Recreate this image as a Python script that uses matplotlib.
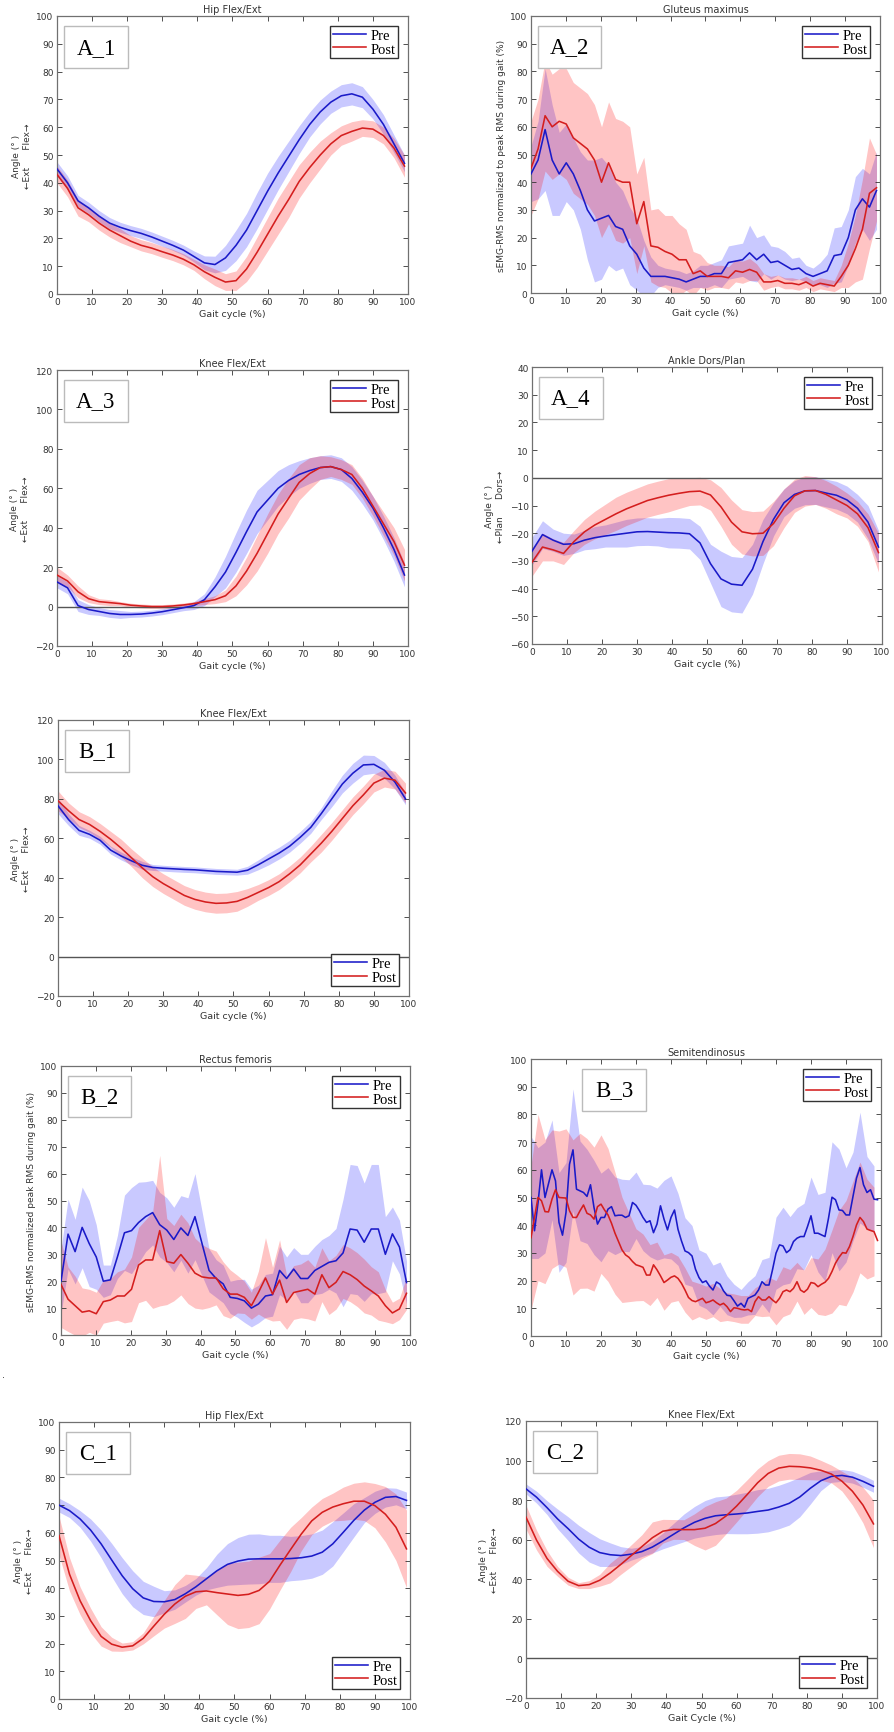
import numpy as np
import matplotlib
matplotlib.use('Agg')
import matplotlib.pyplot as plt
from matplotlib.patches import Rectangle

# ---------------- data ----------------
# kinematic curves sampled every 3 % of gait cycle (0..99)
gait_kin = np.arange(0, 100, 3)

a1_pre = [45, 40, 33.5, 31, 28, 25.5, 24, 22.8, 21.8, 20.5, 19, 17.5, 15.8, 13.5, 11.2, 10.6, 13, 17.5,
          23, 30, 37, 43.5, 49.5, 55.5, 61, 65.5, 69, 71.3, 72, 70.8, 66.5, 61, 54, 47]
a1_pre_sd = [2.5, 2.5, 2, 2, 2, 2, 1.8, 1.8, 1.8, 1.8, 1.8, 1.8, 1.8, 2, 2.5, 3, 4.5, 5.5, 6, 6.5, 6.5, 6,
             5.5, 5, 4.5, 4.3, 4, 4, 4, 3.8, 3.5, 3.5, 3.2, 3]
a1_post = [43, 38, 31, 28.5, 25.5, 23, 21, 19, 17.5, 16.5, 15.2, 14, 12.5, 10.5, 8, 6, 4.3, 4.8, 9, 15,
           21.5, 28, 34, 40.5, 45.5, 50, 54, 57, 58.5, 59.7, 59.3, 57, 52.5, 46]
a1_post_sd = [3, 3, 3, 2.5, 2.5, 2.5, 2.5, 2, 2, 2, 2, 2, 2, 2, 2.5, 3, 3, 3.5, 4.5, 5.5, 6, 6.5, 6.5, 6,
              5.5, 5, 4, 3.5, 3.5, 3, 3, 3, 3.5, 4]

a3_pre = [12.5, 9.5, 0.5, -1.5, -2.5, -3.5, -4, -4, -3.8, -3.3, -2.6, -1.6, -0.6, 0.5, 3.5, 10, 17.5, 27.5,
          38, 48, 54, 60, 64, 67, 69, 70.5, 71, 69.5, 65, 58, 50, 40, 29, 16]
a3_pre_sd = [3, 3, 3, 2.5, 2, 2, 2, 1.5, 1.5, 1.5, 1.5, 1.5, 1.5, 2, 3, 5, 8, 10, 11, 11, 10, 9, 8, 7, 6.5,
             6, 6, 6, 6, 6, 6, 6, 6, 6]
a3_post = [16, 13, 7.5, 4, 2.5, 2, 1.5, 0.7, 0.3, 0, 0, 0.3, 0.8, 1.5, 2.5, 3.5, 5.5, 10.5, 18, 27, 37, 47,
           55, 63, 67.5, 70.5, 71, 69.5, 67, 60, 51, 42, 33, 21]
a3_post_sd = [4, 3, 3, 2, 1.5, 1.5, 1, 1, 1, 1, 1, 1, 1, 1, 1.5, 2, 3, 5, 7, 9, 10, 10, 10, 9, 8, 6, 5, 5,
              5, 5, 5, 6, 7, 8]

a4_pre = [-26.5, -20.5, -22.5, -24, -23.8, -22.5, -21.6, -21, -20.5, -20, -19.5, -19.4, -19.6, -19.8,
          -19.9, -20.2, -23.5, -31, -36.5, -38.4, -38.8, -33, -23, -15, -9, -6, -4.7, -4.6, -5.5, -6.3,
          -8, -11, -16, -25]
a4_pre_sd = [5, 5, 4, 4, 3.5, 3.5, 4, 4, 4.5, 5, 5, 5, 5, 5.5, 5.5, 5.5, 6, 7, 10, 10, 10, 9, 8, 6, 5, 5,
             5, 5, 5, 5, 5, 5, 6, 6]
a4_post = [-30.5, -25, -26, -27.3, -23, -19.5, -17, -15, -13, -11.2, -9.7, -8.2, -7.2, -6.3, -5.6, -5,
           -4.8, -6.2, -10.5, -16, -19.5, -20.2, -20, -16.5, -11, -6.5, -4.7, -4.6, -6, -8, -10, -13,
           -18, -27]
a4_post_sd = [5, 5, 4, 4, 4, 4.5, 5, 5.5, 6, 6, 6, 6, 6, 6, 5.5, 5, 5, 5.5, 7, 8, 8, 8, 8, 8, 7, 6, 5.5,
              5, 5, 5, 4.5, 4.5, 5, 7]

b1_pre = [76.5, 69.5, 64, 62, 59, 54, 51, 48.5, 46.3, 45.2, 44.8, 44.5, 44.2, 44, 43.6, 43.2, 43, 42.8,
          43.8, 46.5, 49.5, 52.5, 56, 60.5, 65.5, 72.5, 80, 87.5, 93, 97.2, 97.5, 94.5, 88.5, 80]
b1_pre_sd = [4, 3, 2.5, 2, 2, 2, 2, 2, 2, 1.5, 1.5, 1.5, 1.5, 1.5, 1.5, 1.5, 1.5, 1.5, 2, 2.5, 3, 3, 3,
             3, 3, 3, 4, 4.5, 5, 5, 4.5, 4, 3.5, 3]
b1_post = [79, 74, 69.5, 67, 63.5, 59.5, 55, 50, 45, 40.5, 37, 34, 31, 29, 27.7, 27, 27.2, 28, 30, 32.5,
           35, 38, 42, 46.5, 52, 57.5, 63.5, 70, 76.5, 82, 88, 90.5, 89.5, 83]
b1_post_sd = [5, 4, 4, 4, 4, 4, 4.5, 4.5, 5, 5, 5, 5, 5, 5, 5, 5, 5, 5, 4.5, 4, 4, 4, 4, 4, 4, 4.5, 4.5,
              4.5, 4.5, 4.5, 4.5, 4.5, 4.5, 5]

c1_pre = [70, 68, 65, 61, 56, 50.2, 44.5, 39.8, 36.5, 35.2, 35.1, 35.9, 38, 40.5, 43.4, 46.3, 48.6, 49.8,
          50.5, 50.6, 50.6, 50.6, 50.7, 51, 51.6, 53, 56, 60.2, 64.5, 68.2, 71, 72.8, 73.1, 71.7]
c1_pre_sd = [2.5, 2.5, 3, 4, 5, 6, 6.5, 6.5, 6, 5.5, 4, 3.5, 3, 3, 4, 6, 7.5, 8.5, 9, 9, 8.5, 8.5, 8, 8,
             8, 8, 8, 7, 6, 4.5, 4, 3.5, 3, 3]
c1_post = [59, 45, 35.5, 28.3, 22.6, 19.8, 18.7, 19.2, 21.9, 26.3, 30.6, 34.3, 37.1, 38.7, 39, 38.4,
           37.9, 37.4, 37.8, 39.2, 42.5, 48.4, 54, 59.5, 64.3, 67.4, 69.3, 70.5, 71.4, 71.4, 69.8, 66.7,
           62, 54.2]
c1_post_sd = [7, 6, 5, 4.5, 3.5, 2.5, 1.5, 1.5, 2, 3.5, 5, 7, 8, 6, 5, 8, 11, 12, 12, 12, 10, 9, 8, 6, 5,
              5, 5, 6, 6.5, 7, 8, 10, 12, 14]

c2_pre = [85.7, 81.5, 76.2, 70.5, 65.6, 60.3, 56.2, 53.5, 52.4, 52, 52.7, 54, 56.3, 59.4, 62.7, 66, 68.8,
          70.8, 72.1, 72.6, 73, 73.5, 74.3, 75, 76.5, 78.4, 81.6, 86, 89.8, 92, 92.5, 91.6, 89.5, 87]
c2_pre_sd = [2.5, 3, 3.5, 5, 6, 7, 7.5, 7, 6, 4.5, 3, 2.5, 3, 4, 5.5, 7, 8, 9, 9.5, 9.5, 10, 10.5, 11, 11,
             11, 11, 10, 8, 5, 3, 3, 3, 3, 3]
c2_post = [71.4, 59.8, 50.5, 44, 39, 36.8, 37.3, 39.5, 43.2, 47.5, 52, 56.5, 61, 64.3, 65.2, 65.1, 65.1,
           65.8, 68.2, 72, 77, 82.8, 88.8, 93.5, 96.2, 97.1, 96.9, 96.3, 95.1, 93.2, 89.6, 84.5, 77.5, 68]
c2_post_sd = [6, 5, 4, 2.5, 2, 1.5, 2, 3, 5, 5, 5.5, 6, 8, 6, 5, 5, 8, 11, 11, 9, 8, 7.5, 7, 6.5, 6.5,
              6.5, 6.5, 6, 5, 4.5, 5, 7, 9, 12]

# EMG curves sampled every ~2 % (50 samples over 0..99)
gait_emg = np.linspace(0, 99, 50)

a2_pre = [43, 48, 59, 48, 43, 47, 43, 37, 30, 26, 27, 28, 24, 23, 17, 14, 9, 6, 6, 6, 5.5, 5, 4, 5, 6, 6,
          7, 7, 11, 11.5, 12, 14.5, 12, 14, 11, 11.5, 10, 8.5, 9, 7, 6, 7, 8, 13.5, 14, 20, 30, 34, 31, 37]
a2_pre_sd = [10, 14, 22, 20, 15, 14, 13, 14, 18, 22, 22, 18, 16, 14, 14, 13, 10, 7, 4, 3, 3, 3, 3, 3, 4,
             4, 4, 5, 6, 6, 6, 10, 8, 7, 6, 5, 5, 4, 4, 3, 3, 4, 6, 10, 10, 10, 12, 11, 12, 14]
a2_post = [45, 52, 64, 60, 62, 61, 56, 54, 52, 48, 40, 47, 41, 40, 40, 25, 33, 17, 16.5, 15, 14, 12, 12,
           7, 8, 6, 6, 6, 5.5, 8, 7.5, 8.5, 7.5, 4, 4, 4.5, 3.5, 3.5, 3, 4, 2.5, 3.5, 3, 2.5, 6, 10, 16,
           23, 36, 38]
a2_post_sd = [17, 18, 20, 19, 19, 20, 20, 20, 20, 20, 20, 22, 22, 22, 20, 18, 16, 13, 14, 13, 14, 13, 11,
              8, 6, 5, 4, 4, 4, 4, 4, 4, 3, 3, 2, 2, 2, 2, 2, 2, 2, 2, 2, 2, 4, 8, 12, 18, 20, 12]

b2_pre = [20, 37.5, 31, 40, 34, 29, 20, 20.5, 29, 38, 38.8, 41.8, 44, 45.5, 41, 39, 35.5, 39.8, 37, 44,
          34, 24, 21, 19, 14, 13.6, 12.7, 10, 11.5, 14.5, 15, 24, 21, 24.5, 21, 21, 24, 25.5, 27, 27.6,
          30.5, 39.4, 39, 34.5, 39.4, 39.4, 30, 37.6, 32.7, 19.5]
b2_pre_sd = [12, 13, 12, 15, 16, 12, 6, 5.5, 8, 14, 16, 15, 13, 12, 12, 12, 12, 12, 14, 16, 12, 8, 7, 7,
             6, 7, 8, 7, 7, 8, 8, 9, 8, 8, 9, 9, 9, 10, 10, 12, 20, 24, 24, 22, 24, 24, 14, 10, 10, 8]
b2_post = [18.8, 13.3, 10.9, 8.5, 9, 7.9, 12.4, 13, 14.5, 14.5, 17, 26, 27.9, 27.9, 38.8, 27.3, 26.7,
           29.9, 26.7, 23, 21.6, 21.2, 21.2, 17.2, 15.2, 15.2, 14, 10.9, 15.8, 21.2, 15.2, 20.4, 12.1,
           15.8, 16.4, 17, 15.2, 22.4, 17.6, 19.6, 23.6, 22.4, 20.6, 18.2, 16.4, 14.5, 10.9, 8.2, 9.7, 15.5]
b2_post_sd = [16, 12, 11, 9, 8, 8, 8, 8, 9, 10, 12, 14, 15, 18, 28, 16, 14, 15, 15, 13, 12, 11, 10, 10, 9,
              7, 6, 5, 8, 15, 10, 15, 10, 10, 10, 11, 10, 10, 10, 10, 10, 10, 10, 10, 9, 9, 6, 4, 4, 6]

# Semitendinosus mean curves every 1 %, bands every 2 %
gait_1 = np.arange(0, 100, 1)
gait_2 = np.arange(0, 100, 2)
b3_pre = [50, 38, 48, 60, 50, 55, 60, 56, 41, 36.4,
          44.6, 62, 67.2, 53, 52.4, 51.8, 50.4, 54.6, 46.4, 40.4,
          42.8, 42.8, 45.8, 46.7, 43.4, 43.6, 43.6, 42.8, 43.4, 48.2,
          47.2, 45.2, 42.8, 41, 41.6, 37.3, 40.4, 47, 42.2, 38.3,
          42.8, 45.5, 38.5, 34.3, 30.7, 30.1, 28.9, 24.1, 21.1, 19.3,
          19.9, 18, 16.6, 19.5, 18.7, 16.3, 14.7, 14.5, 12.7, 10.8,
          11.8, 10.4, 13.6, 14.2, 14.8, 16.6, 19.6, 18.4, 18.4, 23.9,
          29.9, 32.9, 32.5, 30.1, 31.1, 34.1, 35.3, 35.9, 35.9, 39.5,
          43.4, 37.1, 37.1, 36.5, 35.9, 42.5, 50.1, 49.2, 45.5, 45.3,
          43.7, 43.7, 50.4, 57, 60.8, 54.6, 51.8, 52.8, 49.4, 49.2]
b3_post = [35.5, 42.8, 50, 48.8, 44.9, 44.8, 49.4, 52.8, 50, 49.9,
           49.8, 45.2, 42.8, 42.8, 45.2, 47.3, 44.3, 43.7, 42.2, 46.7,
           47.6, 45.5, 43.7, 40.7, 37.1, 34.1, 31.1, 29.3, 28.4, 26.9,
           25.7, 25.3, 24.8, 22, 22, 25.7, 23.9, 21.7, 19.3, 20.2,
           21.2, 21.7, 20.8, 19, 16.6, 13.9, 12.8, 12.4, 13, 13.6,
           12, 12.4, 13, 12, 11.2, 11.8, 10.6, 8.8, 10.2, 10,
           9.6, 9.4, 9.6, 8.8, 12.4, 14.2, 13, 13, 14.2, 13,
           12, 13.6, 16, 16.6, 16, 17.2, 19.6, 16.6, 15.8, 16.9,
           19.3, 19, 17.8, 18.7, 19.4, 20.8, 23.3, 26.3, 28.4, 30.1,
           29.9, 32.3, 35.9, 40.1, 42.8, 41.3, 38.6, 38.1, 37.7, 34.5]
b3_pre_sd = [22, 20, 20, 18, 18, 18, 22, 18, 17, 17, 16, 15, 14, 13, 13, 12, 12, 13, 13, 14, 15, 13, 12,
             11, 10, 10, 9, 8, 7, 6, 5, 6, 7, 8, 10, 13, 14, 12, 11, 12, 14, 14, 16, 20, 22, 17, 16, 20,
             13, 12]
b3_post_sd = [26, 30, 26, 25, 24, 25, 28, 28, 27, 26, 25, 24, 22, 19, 16, 13, 12, 11, 10, 10, 9, 8, 8, 7,
              6, 6, 6, 6, 5, 5, 5, 5, 5, 6, 7, 8, 9, 8, 7, 8, 9, 10, 12, 15, 17, 19, 20, 20, 18, 16]

series_labels = ['Pre', 'Post']
x_ticks = list(range(0, 101, 10))

# ---------------- style ----------------
W, H = 895, 1733
fig = plt.figure(figsize=(W / 100, H / 100), dpi=100)
fig.patch.set_facecolor('white')

PRE_C = '#1a1ac8'
POST_C = '#d41e1e'
TXT = '#333333'
SPINE = '#707070'
FS = 6.5
SERIF = ['Liberation Serif', 'DejaVu Serif']


def make_axes(x0, y0, x1, y1):
    return fig.add_axes([x0 / W, 1 - y1 / H, (x1 - x0) / W, (y1 - y0) / H])


def panel(ax, x_line, pre, post, x_band, pre_c, pre_sd, post_c, post_sd, title, ylim, yticks, ylabel,
          tag, xlabel='Gait cycle (%)', legloc='upper right', zero=False, tag_x=0.02):
    pre_c = np.asarray(pre_c, float); post_c = np.asarray(post_c, float)
    pre_sd = np.asarray(pre_sd, float); post_sd = np.asarray(post_sd, float)
    ax.fill_between(x_band, pre_c - pre_sd, pre_c + pre_sd, color='#0000ff', alpha=0.21, lw=0, zorder=1)
    ax.fill_between(x_band, post_c - post_sd, post_c + post_sd, color='#ff0000', alpha=0.23, lw=0, zorder=1)
    if zero:
        ax.axhline(0, color='#555555', lw=1.0, zorder=2)
    l1, = ax.plot(x_line, pre, color=PRE_C, lw=1.15, zorder=3, label=series_labels[0])
    l2, = ax.plot(x_line, post, color=POST_C, lw=1.15, zorder=3, label=series_labels[1])
    ax.set_xlim(0, 100)
    ax.set_ylim(*ylim)
    ax.set_xticks(x_ticks)
    ax.set_yticks(yticks)
    ax.tick_params(direction='in', length=3.5, width=0.6, top=True, right=True,
                   labelsize=FS, colors=TXT, pad=2.5)
    for s in ax.spines.values():
        s.set_color(SPINE)
        s.set_linewidth(0.9)
    ax.set_title(title, fontsize=FS + 0.5, color=TXT, pad=3)
    ax.set_xlabel(xlabel, fontsize=FS + 0.3, color=TXT, labelpad=2)
    if ylabel:
        ax.set_ylabel(ylabel, fontsize=FS, color=TXT, labelpad=3, linespacing=1.3)
    leg = ax.legend(handles=[l1, l2], loc=legloc, prop={'family': SERIF, 'size': 10.5},
                    frameon=True, fancybox=False, framealpha=1, edgecolor='#333333',
                    handlelength=2.3, handletextpad=0.3, borderpad=0.15, labelspacing=0.05,
                    borderaxespad=0.7)
    leg.get_frame().set_linewidth(1.0)
    leg.set_zorder(5)
    # tag box
    ax.add_patch(Rectangle((tag_x, 0.812), 0.182, 0.152, transform=ax.transAxes, fill=True,
                           facecolor='white', edgecolor='#bbbbbb', lw=1.0, zorder=4))
    ax.text(tag_x + 0.091, 0.888, tag, transform=ax.transAxes, ha='center', va='center',
            fontsize=16.5, family=SERIF, color='black', zorder=5)


ANG_EXT = 'Angle (° )\n←Ext      Flex→'
ANG_ANK = 'Angle (° )\n←Plan      Dors→'
EMG1 = 'sEMG-RMS normalized to peak RMS during gait (%)'
EMG2 = 'sEMG-RMS normalized peak RMS during gait (%)'

ax = make_axes(57, 17, 408, 295)
panel(ax, gait_kin, a1_pre, a1_post, gait_kin, a1_pre, a1_pre_sd, a1_post, a1_post_sd,
      'Hip Flex/Ext', (0, 100), range(0, 101, 10), ANG_EXT, 'A_1')

ax = make_axes(531, 17, 880, 294)
panel(ax, gait_emg, a2_pre, a2_post, gait_emg, a2_pre, a2_pre_sd, a2_post, a2_post_sd,
      'Gluteus maximus', (0, 100), range(0, 101, 10), EMG1, 'A_2')

ax = make_axes(57, 371, 408, 647)
panel(ax, gait_kin, a3_pre, a3_post, gait_kin, a3_pre, a3_pre_sd, a3_post, a3_post_sd,
      'Knee Flex/Ext', (-20, 120), range(-20, 121, 20), ANG_EXT, 'A_3', zero=True)

ax = make_axes(532, 368, 882, 645)
panel(ax, gait_kin, a4_pre, a4_post, gait_kin, a4_pre, a4_pre_sd, a4_post, a4_post_sd,
      'Ankle Dors/Plan', (-60, 40), range(-60, 41, 10), ANG_ANK, 'A_4', zero=True)

ax = make_axes(58, 721, 409, 997)
panel(ax, gait_kin, b1_pre, b1_post, gait_kin, b1_pre, b1_pre_sd, b1_post, b1_post_sd,
      'Knee Flex/Ext', (-20, 120), range(-20, 121, 20), ANG_EXT, 'B_1', legloc='lower right', zero=True)

ax = make_axes(61, 1067, 410, 1336)
panel(ax, gait_emg, b2_pre, b2_post, gait_emg, b2_pre, b2_pre_sd, b2_post, b2_post_sd,
      'Rectus femoris', (0, 100), range(0, 101, 10), EMG2, 'B_2')

ax = make_axes(531, 1060, 881, 1337)
panel(ax, gait_1, b3_pre, b3_post, gait_2, b3_pre[::2], b3_pre_sd, b3_post[::2], b3_post_sd,
      'Semitendinosus', (0, 100), range(0, 101, 10), None, 'B_3', tag_x=0.147)

ax = make_axes(59, 1423, 410, 1700)
panel(ax, gait_kin, c1_pre, c1_post, gait_kin, c1_pre, c1_pre_sd, c1_post, c1_post_sd,
      'Hip Flex/Ext', (0, 100), range(0, 101, 10), ANG_EXT, 'C_1', legloc='lower right')

ax = make_axes(526, 1422, 877, 1699)
panel(ax, gait_kin, c2_pre, c2_post, gait_kin, c2_pre, c2_pre_sd, c2_post, c2_post_sd,
      'Knee Flex/Ext', (-20, 120), range(-20, 121, 20), ANG_EXT, 'C_2', xlabel='Gait Cycle (%)',
      legloc='lower right', zero=True)

fig.text(2 / W, 1 - 1378 / H, '.', fontsize=7, color=TXT)

fig.savefig('out.png', dpi=100, facecolor='white')
